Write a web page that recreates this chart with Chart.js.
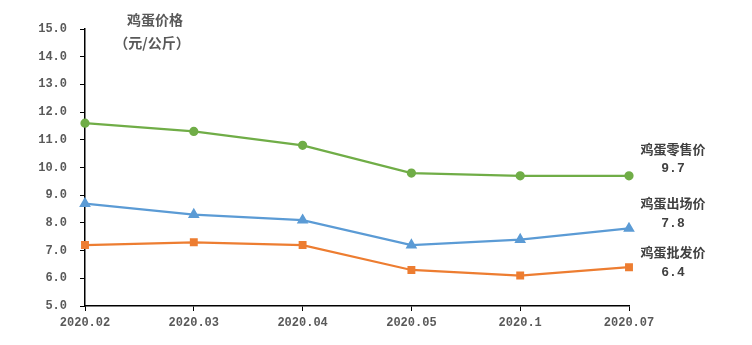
<!DOCTYPE html>
<html>
<head>
<meta charset="utf-8">
<script src="https://cdn.jsdelivr.net/npm/chart.js@4"></script>
<style>
  html, body { margin: 0; padding: 0; background: #fff; }
  #wrap { width: 752px; height: 345px; }
</style>
</head>
<body>
<div id="wrap"><canvas id="myChart" width="752" height="345"></canvas></div>
<script>
// chart data
const months = ['2020.02', '2020.03', '2020.04', '2020.05', '2020.1', '2020.07'];
const retailPrice = [11.6, 11.3, 10.8, 9.8, 9.7, 9.7];
const farmPrice = [8.7, 8.3, 8.1, 7.2, 7.4, 7.8];
const wholesalePrice = [7.2, 7.3, 7.2, 6.3, 6.1, 6.4];
const seriesNames = ['鸡蛋零售价', '鸡蛋出场价', '鸡蛋批发价'];
const yTicks = [5, 6, 7, 8, 9, 10, 11, 12, 13, 14, 15];

const cjkFont = '"Noto Sans CJK SC", sans-serif';
const numFont = '"Liberation Mono", monospace';

// labels next to the last point of each line
const endLabels = {
    id: 'endLabels',
    afterDatasetsDraw(chart) {
        const ctx = chart.ctx;
        const offsets = [-27, -25, -15];
        ctx.save();
        ctx.textAlign = 'center';
        ctx.textBaseline = 'middle';
        ctx.fillStyle = '#404040';
        chart.data.datasets.forEach((ds, i) => {
            const meta = chart.getDatasetMeta(i);
            const last = meta.data[meta.data.length - 1];
            const x = last.x + 44;
            const y = last.y + offsets[i];
            ctx.font = 'bold 13px ' + cjkFont;
            ctx.fillText(ds.label, x, y);
            ctx.font = 'bold 13px ' + numFont;
            ctx.fillText(ds.data[ds.data.length - 1].toFixed(1), x, y + 20);
        });

        // unit title
        ctx.fillStyle = '#595959';
        ctx.font = 'bold 14px ' + cjkFont;
        ctx.fillText('鸡蛋价格', 155, 20);
        ctx.fillText('（元/公斤）', 152, 43);
        ctx.restore();
    }
};

const config = {
    type: 'line',
    data: {
        labels: months,
        datasets: [{
            label: seriesNames[0],
            data: retailPrice,
            borderColor: '#70AD47',
            backgroundColor: '#70AD47',
            pointStyle: 'circle',
            pointRadius: 3.5
        }, {
            label: seriesNames[1],
            data: farmPrice,
            borderColor: '#5B9BD5',
            backgroundColor: '#5B9BD5',
            pointStyle: 'triangle',
            pointRadius: 4.5
        }, {
            label: seriesNames[2],
            data: wholesalePrice,
            borderColor: '#ED7D31',
            backgroundColor: '#ED7D31',
            pointStyle: 'rect',
            pointRadius: 4
        }]
    },
    options: {
        responsive: false,
        animation: false,
        datasets: { line: { borderWidth: 2.25, tension: 0 } },
        layout: { padding: { top: 29, right: 123, left: 0, bottom: 0 } },
        scales: {
            x: {
                offset: false,
                grid: { display: true, drawOnChartArea: false, tickLength: 5, color: '#000', lineWidth: 1 },
                border: { color: '#000', width: 1.5 },
                ticks: {
                    color: '#595959',
                    font: { family: numFont, size: 12, weight: 'bold' },
                    maxRotation: 0,
                    autoSkip: false,
                    padding: 5
                },
                afterFit: scale => { scale.height = 39; }
            },
            y: {
                min: 5,
                max: 15,
                afterBuildTicks: scale => { scale.ticks = yTicks.map(v => ({ value: v })); },
                grid: { display: true, drawOnChartArea: false, tickLength: 5, color: '#000', lineWidth: 1 },
                border: { color: '#000', width: 1.5 },
                ticks: {
                    color: '#595959',
                    font: { family: numFont, size: 12, weight: 'bold' },
                    padding: 13,
                    callback: v => v.toFixed(1)
                },
                afterFit: scale => { scale.width = 85; }
            }
        },
        plugins: {
            legend: { display: false },
            tooltip: { enabled: false }
        }
    },
    plugins: [endLabels]
};

const chart = new Chart(document.getElementById('myChart'), config);
</script>
</body>
</html>
